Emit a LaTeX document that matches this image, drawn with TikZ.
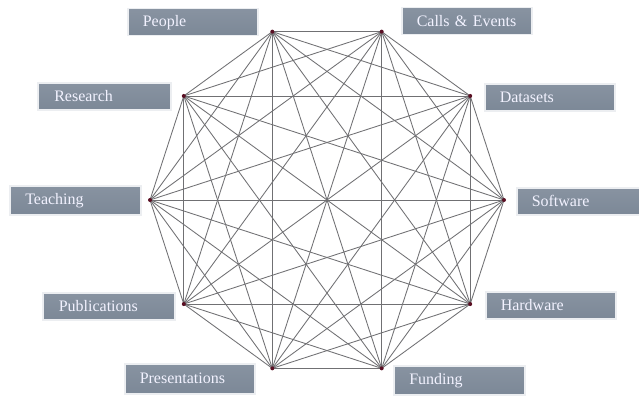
\documentclass[tikz,border=0pt]{standalone}
\usepackage{fontspec}
\setmainfont{Liberation Serif}
\definecolor{boxfill}{RGB}{124,136,151}
\definecolor{boxtop}{RGB}{136,147,161}
\definecolor{boxedge}{RGB}{236,238,241}
\definecolor{edgecol}{RGB}{112,112,115}
\definecolor{dotcol}{RGB}{90,15,35}
\begin{document}
\begin{tikzpicture}[x=1pt,y=-1pt,
  labelbox/.style={anchor=north west, draw=boxedge, line width=1.5pt,
    top color=boxtop, bottom color=boxfill,
    minimum width=130pt, minimum height=27pt, inner xsep=15pt, inner ysep=0pt,
    text width=100pt, align=left, text=white!95!blue,
    font=\fontsize{16}{17}\selectfont},
  vdot/.style={circle, fill=dotcol, inner sep=0pt, minimum size=4pt},
  link/.style={draw=edgecol, line width=0.85pt}]
\useasboundingbox (0,0) rectangle (639,396);
\fill[white] (0,0) rectangle (639,396);
% label boxes
\begin{scope}
\clip (0,0) rectangle (639,396);
\node[labelbox] (lPeople) at (127,8) {People};
\node[labelbox] (lCalls) at (401,7) {Calls \& Events};
\node[labelbox, minimum width=133pt] (lResearch) at (37,82) {Research};
\node[labelbox] (lDatasets) at (484,83) {Datasets};
\node[labelbox, minimum width=131pt, minimum height=29pt] (lTeaching) at (9,185) {Teaching};
\node[labelbox] (lSoftware) at (516,187) {Software};
\node[labelbox, minimum width=132pt] (lPublications) at (42,292) {Publications};
\node[labelbox] (lHardware) at (485,291) {Hardware};
\node[labelbox, minimum height=30pt] (lPresentations) at (124,363) {Presentations};
\node[labelbox, minimum width=131pt, minimum height=29pt] (lFunding) at (393,365) {Funding};
\end{scope}
% vertices of the decagon
\foreach \k in {0,...,9}{
  \pgfmathsetmacro{\ang}{36*\k}
  \coordinate (v\k) at ({327+177*cos(\ang)},{200-177*sin(\ang)});
}
% complete graph edges
\foreach \i in {0,...,8}{
  \pgfmathtruncatemacro{\s}{\i+1}
  \foreach \j in {\s,...,9}{
    \draw[link] (v\i) -- (v\j);
  }
}
% vertex dots
\foreach \k in {0,...,9}{
  \node[vdot] (d\k) at (v\k) {};
}
\end{tikzpicture}
\end{document}
